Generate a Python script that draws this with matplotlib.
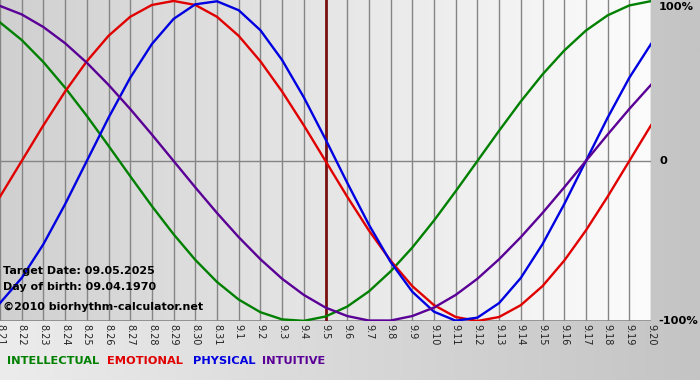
import numpy as np
import matplotlib
matplotlib.use("Agg")
import matplotlib.pyplot as plt
from matplotlib.colors import LinearSegmentedColormap

dates = ["8.21", "8.22", "8.23", "8.24", "8.25", "8.26", "8.27", "8.28", "8.29", "8.30",
         "8.31", "9.1", "9.2", "9.3", "9.4", "9.5", "9.6", "9.7", "9.8", "9.9",
         "9.10", "9.11", "9.12", "9.13", "9.14", "9.15", "9.16", "9.17", "9.18", "9.19", "9.20"]

intellectual = [86.6, 75.6, 61.8, 45.8, 28.2, 9.5, -9.5, -28.2, -45.8, -61.8,
                -75.6, -86.6, -94.5, -99.0, -99.9, -97.2, -91.0, -81.5, -69.0, -54.1,
                -37.2, -18.9, 0.0, 18.9, 37.2, 54.1, 69.0, 81.5, 91.0, 97.2, 99.9]
emotional = [-22.3, 0.0, 22.3, 43.4, 62.3, 78.2, 90.1, 97.5, 100.0, 97.5,
             90.1, 78.2, 62.3, 43.4, 22.3, 0.0, -22.3, -43.4, -62.3, -78.2,
             -90.1, -97.5, -100.0, -97.5, -90.1, -78.2, -62.3, -43.4, -22.3, 0.0, 22.3]
physical = [-88.8, -73.1, -52.0, -27.0, 0.0, 27.0, 52.0, 73.1, 88.8, 97.9,
            99.8, 94.2, 81.7, 63.1, 39.8, 13.6, -13.6, -39.8, -63.1, -81.7,
            -94.2, -99.8, -97.9, -88.8, -73.1, -52.0, -27.0, 0.0, 27.0, 52.0, 73.1]
intuitive = [96.9, 91.6, 83.7, 73.6, 61.4, 47.6, 32.5, 16.5, 0.0, -16.5,
             -32.5, -47.6, -61.4, -73.6, -83.7, -91.6, -96.9, -99.7, -99.7, -96.9,
             -91.6, -83.7, -73.6, -61.4, -47.6, -32.5, -16.5, 0.0, 16.5, 32.5, 47.6]

target_date = "9.5"
series = [("INTELLECTUAL", intellectual, "#008000"),
          ("EMOTIONAL", emotional, "#e00000"),
          ("PHYSICAL", physical, "#0000e0"),
          ("INTUITIVE", intuitive, "#5a0096")]

W, H = 700, 380
fig = plt.figure(figsize=(W / 100, H / 100), dpi=100)

# figure background gradient
bg = fig.add_axes([0, 0, 1, 1], zorder=-10)
bg.imshow(np.linspace(0, 1, 256)[None, :], aspect="auto", extent=[0, 1, 0, 1],
          cmap=LinearSegmentedColormap.from_list("bg", ["#ececec", "#c4c4c4"]))
bg.set_axis_off()

left_px, right_px, top_px, bot_px = 0, 651, 0, 321
ax = fig.add_axes([left_px / W, 1 - bot_px / H, (right_px - left_px) / W, (bot_px - top_px) / H])
ax.set_facecolor("none")
x = np.arange(len(dates))
ax.set_xlim(0, len(dates) - 1)
ax.set_ylim(-100, 100.6)
ax.imshow(np.linspace(0, 1, 256)[None, :], aspect="auto",
          extent=[0, len(dates) - 1, -100, 100.6], zorder=0,
          cmap=LinearSegmentedColormap.from_list("pa", ["#d0d0d0", "#fcfcfc"]))

for xi in x:
    ax.axvline(xi, color="#858585", lw=1, zorder=1)
ax.axhline(0, color="#858585", lw=1, zorder=1)
ax.axhline(-100, color="#858585", lw=1.2, zorder=1)

ti = dates.index(target_date)
ax.axvline(ti, color="#7a1010", lw=2, zorder=2)

for name, vals, col in series:
    ax.plot(x, vals, color=col, lw=1.7, zorder=3, solid_joinstyle="round")

for s in ax.spines.values():
    s.set_visible(False)
ax.set_xticks(x)
ax.set_xticklabels(dates, rotation=270, fontsize=7, color="#222222")
ax.tick_params(axis="x", length=0, pad=2)
ax.set_yticks([])

# right side labels
fig.text(659 / W, 1 - 7 / H, "100%", fontsize=8.2, fontweight="bold", va="center", ha="left")
fig.text(659 / W, 1 - 161 / H, "0", fontsize=8.2, fontweight="bold", va="center", ha="left")
fig.text(698 / W, 1 - 321 / H, "-100%", fontsize=8.2, fontweight="bold", va="center", ha="right")

# info text
fig.text(3 / W, 1 - 271 / H, "Target Date: 09.05.2025", fontsize=8, fontweight="bold", va="center")
fig.text(3 / W, 1 - 287 / H, "Day of birth: 09.04.1970", fontsize=8, fontweight="bold", va="center")
fig.text(3 / W, 1 - 307 / H, "\u00a92010 biorhythm-calculator.net", fontsize=8, fontweight="bold", va="center")

# legend text
xs = [7, 107, 193, 262]
for (name, vals, col), xp in zip(series, xs):
    fig.text(xp / W, 1 - 361 / H, name, fontsize=8.2, fontweight="bold", color=col, va="center")

fig.savefig("out.png", dpi=100)
